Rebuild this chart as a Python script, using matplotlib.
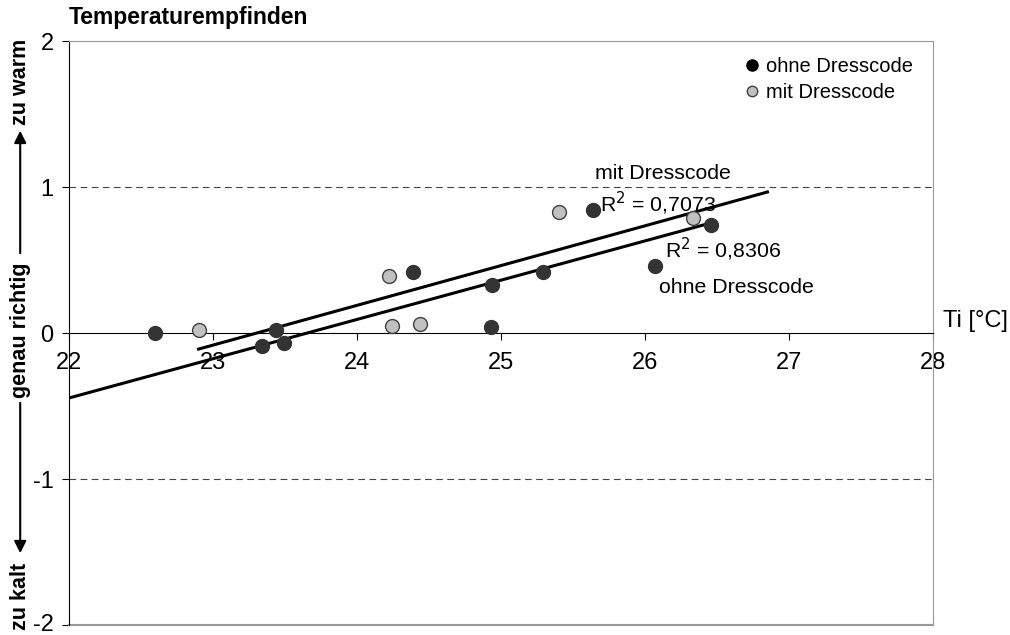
import matplotlib.pyplot as plt
import matplotlib.transforms as mtransforms
from matplotlib.lines import Line2D
import numpy as np

plt.rcParams['font.family'] = ['Liberation Sans', 'DejaVu Sans']
plt.rcParams['axes.unicode_minus'] = False

# Messpunkte: Raumtemperatur Ti und Temperaturempfinden
ohne_x = np.array([22.60, 23.34, 23.44, 23.49, 24.39, 24.94, 24.93, 25.29, 25.64, 26.07, 26.46])
ohne_y = np.array([0.00, -0.09, 0.02, -0.07, 0.42, 0.33, 0.04, 0.42, 0.84, 0.46, 0.74])
mit_x = np.array([22.90, 24.22, 24.24, 24.44, 25.40, 26.33])
mit_y = np.array([0.02, 0.39, 0.05, 0.06, 0.83, 0.79])

# Trendlinien (Steigung, Achsenabschnitt, x-Bereich)
ohne_fit = (0.269, -6.363)
ohne_fit_x = [22.0, 26.43]
mit_fit = (0.2724, -6.348)
mit_fit_x = [22.9, 26.85]

xticks = [22, 23, 24, 25, 26, 27, 28]
yticks = [-2, -1, 0, 1, 2]

fig = plt.figure(figsize=(10.1, 6.35), dpi=100)
ax = fig.add_axes([0.0683, 0.0157, 0.8555, 0.9197])
ax.set_xlim(22, 28)
ax.set_ylim(-2, 2)

# Hilfslinien bei +1 / -1
for yv in [1, -1]:
    ax.plot([22, 28], [yv, yv], color='#444444', lw=0.8, ls=(0, (6, 4)))

# Trendlinien
fx = np.array(ohne_fit_x)
ax.plot(fx, ohne_fit[0] * fx + ohne_fit[1], color='black', lw=2.2, zorder=3)
fx = np.array(mit_fit_x)
ax.plot(fx, mit_fit[0] * fx + mit_fit[1], color='black', lw=2.2, zorder=3)

# Punkte
ax.scatter(ohne_x, ohne_y, s=100, color='#333333', edgecolor='#333333', zorder=4)
ax.scatter(mit_x, mit_y, s=100, color='#c0c0c0', edgecolor='#404040', lw=1, zorder=4)

# Achsen
ax.spines['bottom'].set_position(('data', 0))
ax.spines['bottom'].set_color('black')
ax.spines['left'].set_color('black')
ax.spines['top'].set_color('#999999')
ax.spines['right'].set_color('#999999')
ax.plot([22, 28], [-2, -2], color='#999999', lw=1.5, clip_on=False)
ax.set_xticks(xticks)
ax.set_yticks(yticks)
ax.tick_params(axis='x', direction='out', length=5, pad=9, labelsize=17)
ax.tick_params(axis='y', direction='out', length=5, pad=6, labelsize=17)

# unterste Beschriftung etwas anheben, damit sie nicht abgeschnitten wird
lab = ax.get_yticklabels()[0]
lab.set_transform(lab.get_transform() + mtransforms.ScaledTranslation(0, 3 / 100, fig.dpi_scale_trans))

ax.text(28.07, 0.08, 'Ti [°C]', fontsize=17, va='center', ha='left')
ax.text(22.0, 2.08, 'Temperaturempfinden', fontsize=16.5, fontweight='bold', va='bottom', ha='left')

# Beschriftung der Trendlinien
ax.text(25.65, 1.09, 'mit Dresscode', fontsize=15.3, va='center')
ax.text(25.69, 0.89, 'R$^2$ = 0,7073', fontsize=15.3, va='center')
ax.text(26.14, 0.57, 'R$^2$ = 0,8306', fontsize=15.3, va='center')
ax.text(26.10, 0.315, 'ohne Dresscode', fontsize=15.3, va='center')

handles = [Line2D([], [], ls='none', marker='o', ms=8, color='black', label='ohne Dresscode'),
           Line2D([], [], ls='none', marker='o', ms=7.5, markerfacecolor='#c0c0c0',
                  markeredgecolor='#404040', label='mit Dresscode')]
ax.legend(handles=handles, loc='upper left', bbox_to_anchor=(0.781, 0.972), frameon=False, fontsize=14.5,
          handlelength=0.8, handletextpad=0.3, labelspacing=0.35, borderaxespad=0, borderpad=0)

# y-Achsenbeschriftung mit Pfeilen
fig.text(0.02, 0.871, 'zu warm', rotation=90, fontsize=15.5, fontweight='bold', ha='center', va='center')
fig.text(0.02, 0.480, 'genau richtig', rotation=90, fontsize=15.5, fontweight='bold', ha='center', va='center')
fig.text(0.02, 0.061, 'zu kalt', rotation=90, fontsize=15.5, fontweight='bold', ha='center', va='center')
ax.annotate('', xy=(0.02, 1 - 128 / 635), xytext=(0.02, 1 - 256 / 635), xycoords='figure fraction',
            arrowprops=dict(arrowstyle='-|>', color='black', lw=1.5, mutation_scale=18))
ax.annotate('', xy=(0.02, 1 - 556 / 635), xytext=(0.02, 1 - 400 / 635), xycoords='figure fraction',
            arrowprops=dict(arrowstyle='-|>', color='black', lw=1.5, mutation_scale=18))

fig.savefig('out.png', dpi=100)
